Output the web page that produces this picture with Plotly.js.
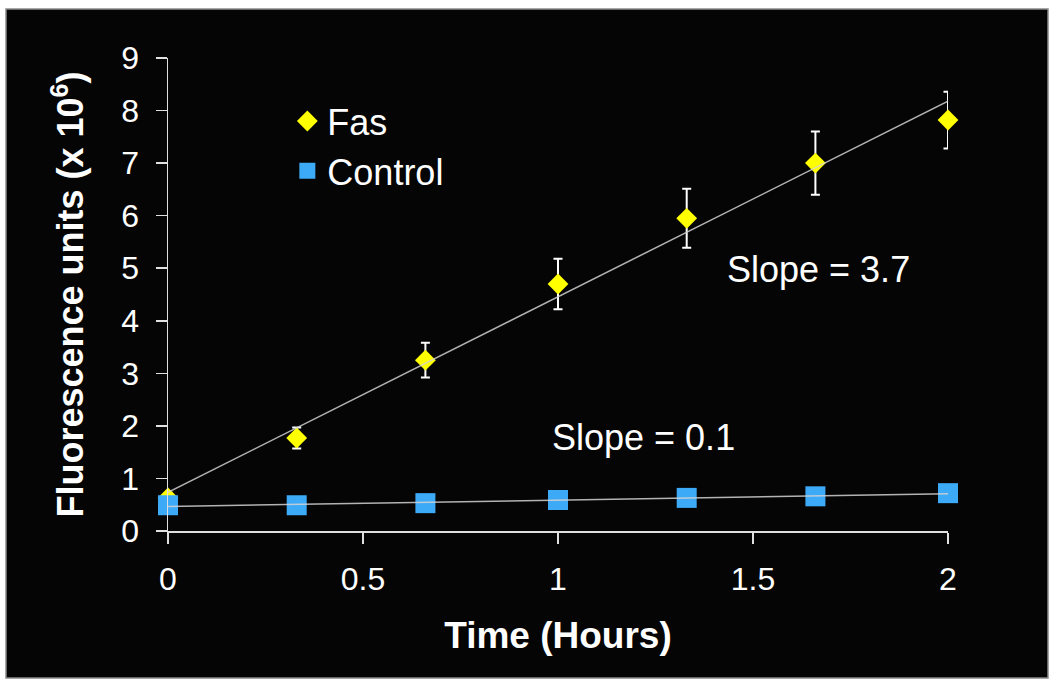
<!DOCTYPE html>
<html>
<head>
<meta charset="utf-8">
<script src="https://cdn.plot.ly/plotly-3.0.1.min.js"></script>
<style>html,body{margin:0;padding:0;background:#fff;}#chart{width:1050px;height:684px;}</style>
</head>
<body>
<div id="chart"></div>
<script>
// Data
const timeHours = [0, 0.33, 0.66, 1, 1.33, 1.66, 2];
const fasValues = [0.63, 1.77, 3.25, 4.7, 5.95, 7.0, 7.82];
const fasErrors = [0.1, 0.2, 0.33, 0.48, 0.56, 0.6, 0.54];
const controlValues = [0.49, 0.49, 0.53, 0.59, 0.63, 0.66, 0.72];
const xTicks = [0, 0.5, 1, 1.5, 2];
const xTickLabels = ['0', '0.5', '1', '1.5', '2'];
const yTicks = [0, 1, 2, 3, 4, 5, 6, 7, 8, 9];
const slopeLabels = ['Slope = 3.7', 'Slope = 0.1'];

// least squares fit for trend lines
function fit(xs, ys) {
  const n = xs.length;
  const mx = xs.reduce((a, b) => a + b, 0) / n;
  const my = ys.reduce((a, b) => a + b, 0) / n;
  let sxy = 0, sxx = 0;
  for (let i = 0; i < n; i++) { sxy += (xs[i] - mx) * (ys[i] - my); sxx += (xs[i] - mx) ** 2; }
  const m = sxy / sxx;
  const b = my - m * mx;
  const x0 = xs[0], x1 = xs[n - 1];
  return { x: [x0, x1], y: [b + m * x0, b + m * x1] };
}
const fasFit = fit(timeHours, fasValues);
const ctlFit = fit(timeHours, controlValues);

const FONT = 'Arial, "Liberation Sans", sans-serif';

const traces = [
  {
    x: timeHours, y: fasValues, name: 'Fas', type: 'scatter', mode: 'markers', cliponaxis: false,
    marker: { symbol: 'diamond', size: 16, color: '#ffff00', line: { width: 0 } },
    error_y: { type: 'data', array: fasErrors, visible: true, color: '#ffffff', thickness: 2, width: 4.5 }
  },
  {
    x: timeHours, y: controlValues, name: 'Control', type: 'scatter', mode: 'markers', cliponaxis: false,
    marker: { symbol: 'square', size: 20, color: '#3daaf8', line: { width: 0 } }
  },
  {
    x: fasFit.x, y: fasFit.y, type: 'scatter', mode: 'lines', showlegend: false, hoverinfo: 'skip', cliponaxis: false,
    line: { color: 'rgba(210,210,210,0.85)', width: 1.5 }
  },
  {
    x: ctlFit.x, y: ctlFit.y, type: 'scatter', mode: 'lines', showlegend: false, hoverinfo: 'skip', cliponaxis: false,
    line: { color: 'rgba(210,210,210,0.85)', width: 1.5 }
  }
];

const layout = {
  width: 1050, height: 684,
  margin: { l: 168, r: 102, t: 58, b: 153, pad: 0 },
  paper_bgcolor: '#ffffff',
  plot_bgcolor: 'rgba(0,0,0,0)',
  font: { family: FONT, color: '#ffffff', size: 32 },
  showlegend: true,
  legend: {
    x: 0.153, y: 0.93, xanchor: 'left', yanchor: 'top',
    bgcolor: 'rgba(0,0,0,0)', borderwidth: 0,
    font: { family: FONT, size: 36, color: '#ffffff' },
    tracegroupgap: 0
  },
  xaxis: {
    range: [0, 2], tickmode: 'array', tickvals: xTicks, ticktext: xTickLabels,
    ticks: 'outside', ticklen: 11, tickwidth: 1.5, tickcolor: '#e0e0e0',
    showline: true, linecolor: '#e0e0e0', linewidth: 1.5,
    showgrid: false, zeroline: false,
    tickfont: { family: FONT, size: 32, color: '#ffffff' },
    ticklabelstandoff: 8,
    title: { text: '<b>Time (Hours)</b>', font: { family: FONT, size: 37, color: '#ffffff' }, standoff: 26 }
  },
  yaxis: {
    range: [0, 9], tickmode: 'array', tickvals: yTicks,
    ticks: 'outside', ticklen: 11, tickwidth: 1.5, tickcolor: '#e0e0e0',
    showline: true, linecolor: '#e0e0e0', linewidth: 1.5,
    showgrid: false, zeroline: false,
    tickfont: { family: FONT, size: 32, color: '#ffffff' },
    ticklabelstandoff: 10,
    title: { text: '<b>Fluorescence units (x 10<sup>6</sup>)</b>', font: { family: FONT, size: 36, color: '#ffffff' }, standoff: 26 }
  },
  shapes: [
    {
      type: 'rect', xref: 'paper', yref: 'paper', layer: 'below',
      x0: (6 - 168) / 780, x1: (1048 - 168) / 780,
      y0: (531 - 678) / 473, y1: (531 - 9) / 473,
      fillcolor: '#050505', line: { color: '#8a8a8a', width: 1.5 }
    }
  ],
  annotations: [
    { x: 1.667, y: 4.97, xref: 'x', yref: 'y', text: slopeLabels[0], showarrow: false,
      font: { family: FONT, size: 36, color: '#ffffff' } },
    { x: 1.22, y: 1.77, xref: 'x', yref: 'y', text: slopeLabels[1], showarrow: false,
      font: { family: FONT, size: 36, color: '#ffffff' } }
  ]
};

Plotly.newPlot('chart', traces, layout, { displayModeBar: false, staticPlot: true });
</script>
</body>
</html>
